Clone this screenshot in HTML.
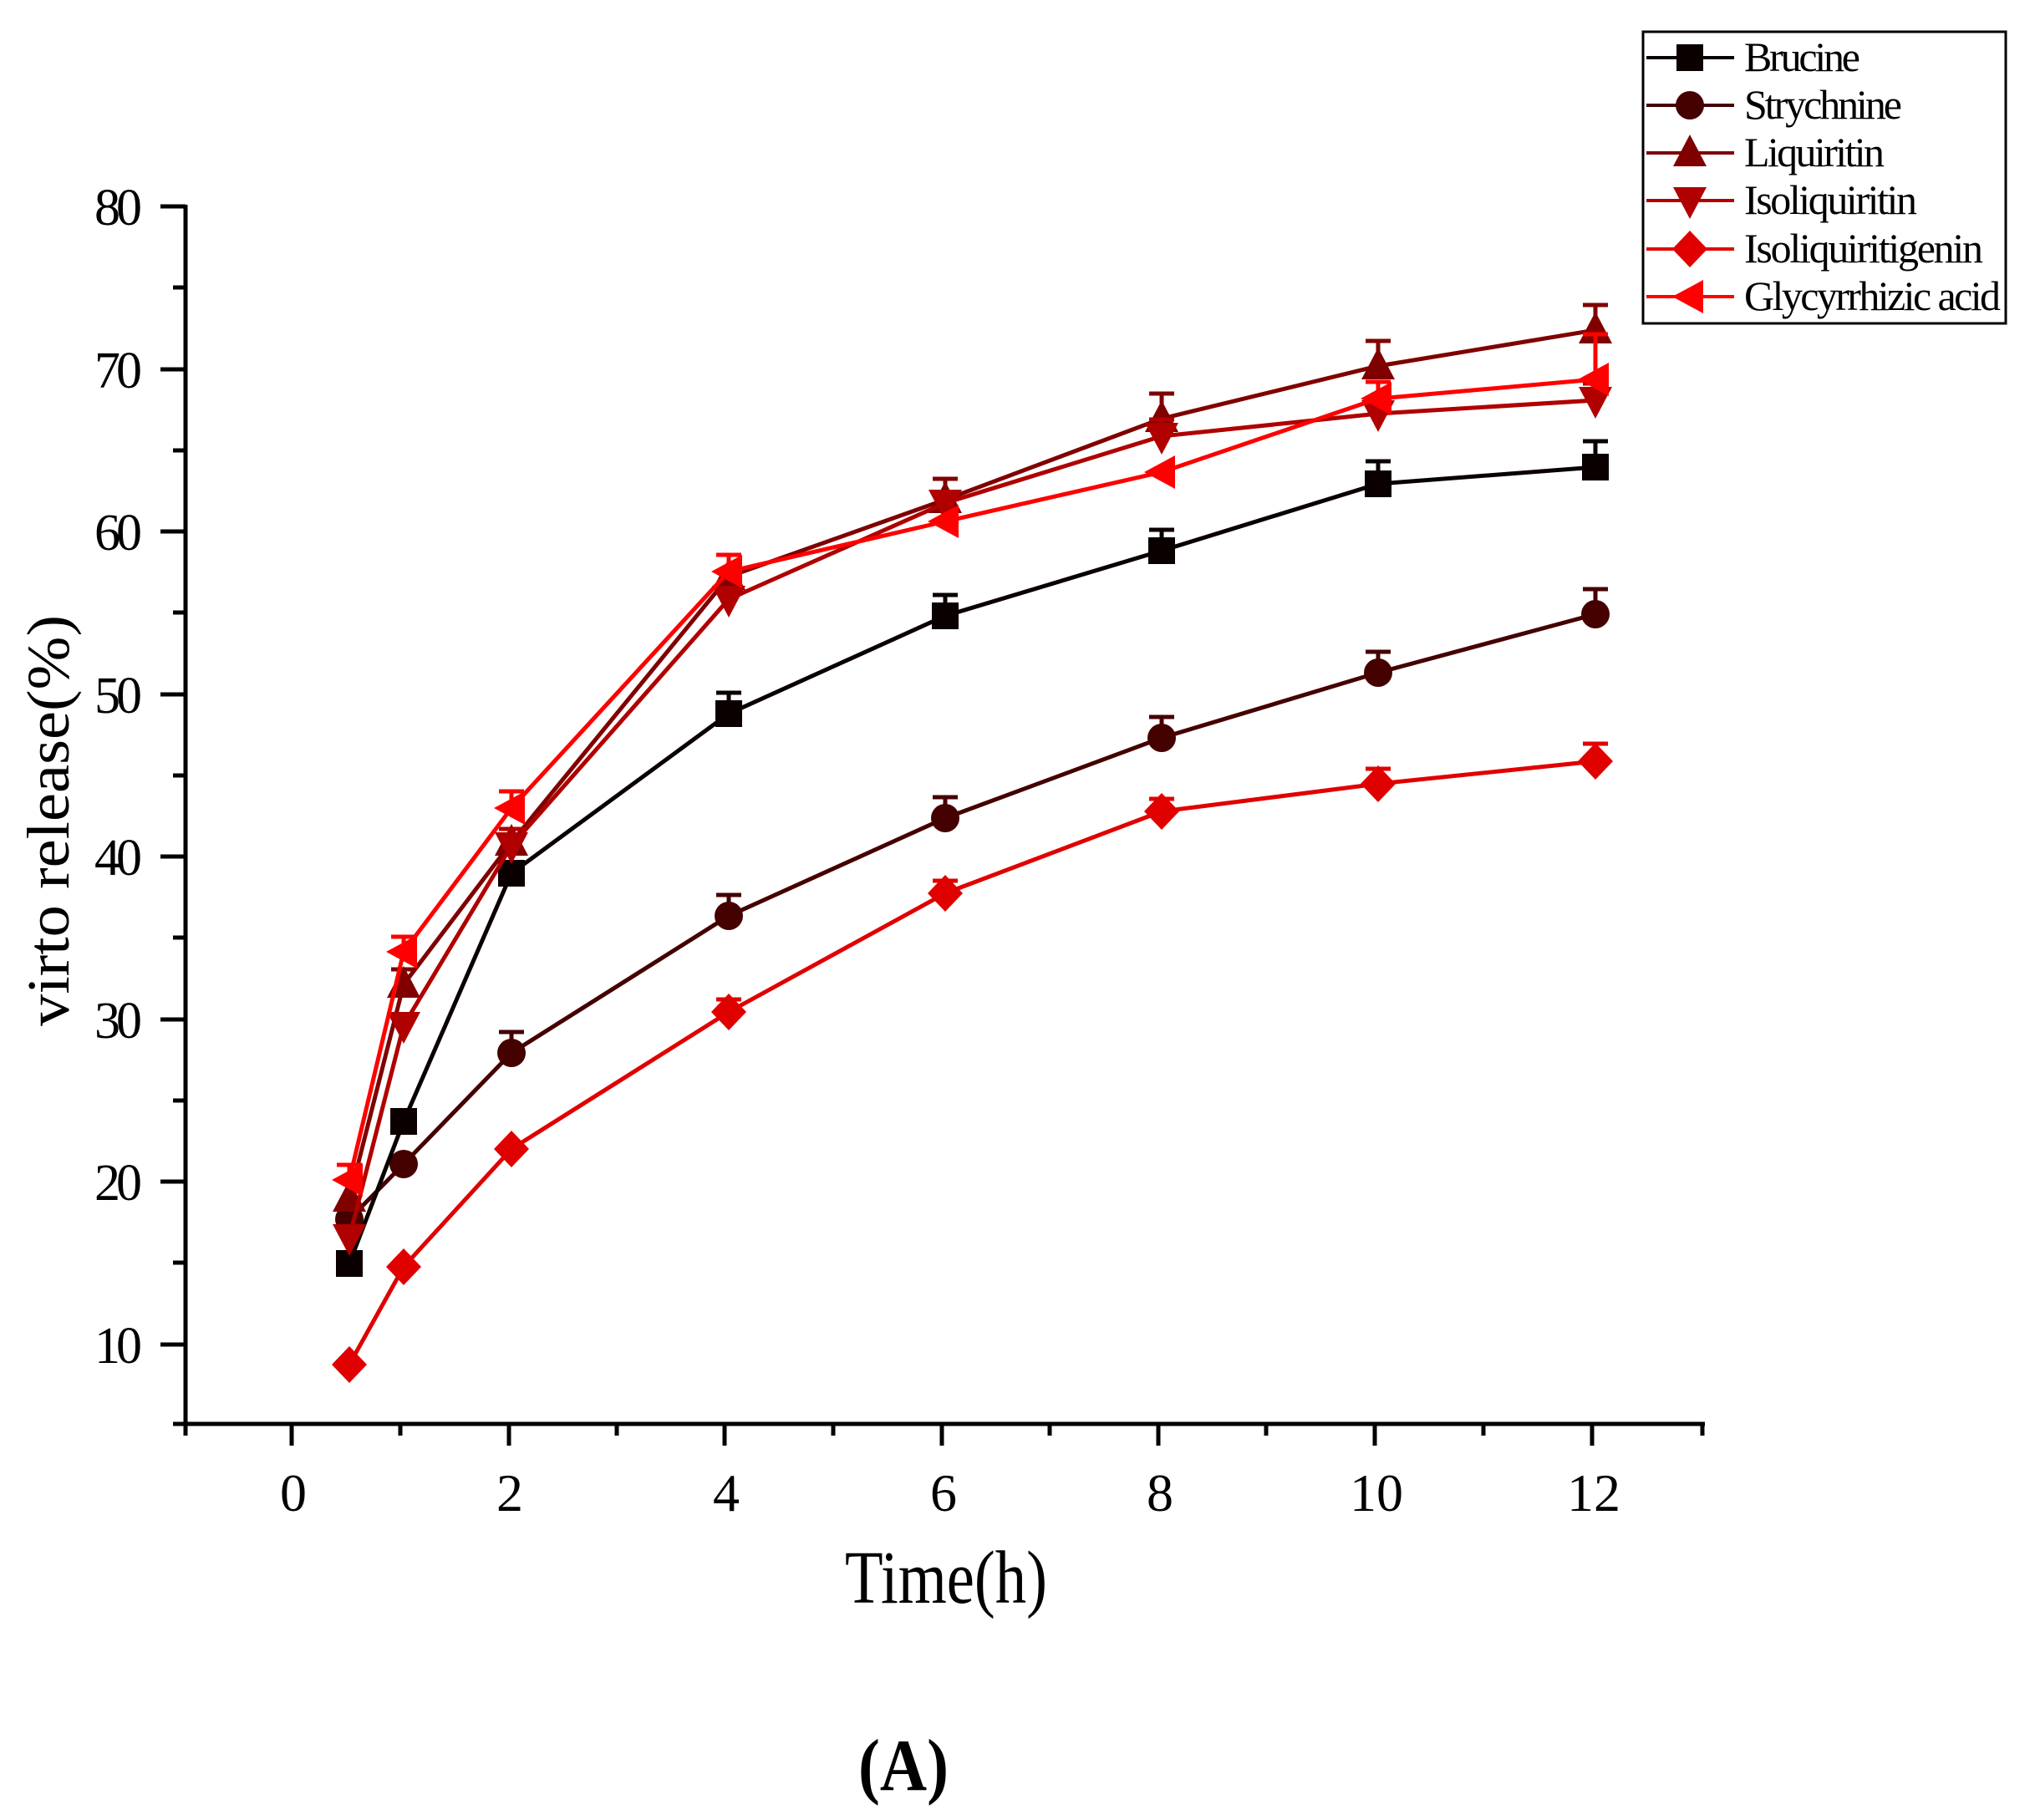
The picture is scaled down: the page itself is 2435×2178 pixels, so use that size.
<!DOCTYPE html>
<html><head><meta charset="utf-8"><style>
html,body{margin:0;padding:0;background:#fff}
svg{display:block}
text{font-family:"Liberation Serif",serif;fill:#000}
</style></head><body>
<svg width="2435" height="2178" viewBox="0 0 2435 2178" xmlns="http://www.w3.org/2000/svg">
<defs>
<g id="sq"><rect x="-16" y="-16" width="32" height="32"/></g>
<g id="ci"><circle r="17"/></g>
<g id="tu"><polygon points="0,-22 20,16 -20,16"/></g>
<g id="td"><polygon points="0,22 20,-16 -20,-16"/></g>
<g id="di"><polygon points="0,-22 21,0 0,22 -21,0"/></g>
<g id="tl"><polygon points="-21,0 16,-20 16,20"/></g>
</defs>
<g stroke="#000" stroke-width="5" fill="none">
<line x1="222" y1="245" x2="222" y2="1707"/>
<line x1="220" y1="1704" x2="2040" y2="1704"/>
<path d="M192 247H222M192 442H222M192 636H222M192 831H222M192 1025H222M192 1220H222M192 1414H222M192 1609H222"/>
<path d="M207 344H222M207 539H222M207 733H222M207 928H222M207 1122H222M207 1317H222M207 1511H222M207 1704H222"/>
<path d="M349 1704V1730M609 1704V1730M867 1704V1730M1127 1704V1730M1386 1704V1730M1645 1704V1730M1905 1704V1730"/>
<path d="M222 1704V1718M479 1704V1718M738 1704V1718M997 1704V1718M1256 1704V1718M1515 1704V1718M1775 1704V1718M2037 1704V1718"/>
</g>
<g font-size="62" text-anchor="end">
<text x="170" y="269" textLength="57">80</text>
<text x="170" y="464" textLength="57">70</text>
<text x="170" y="658" textLength="57">60</text>
<text x="170" y="853" textLength="57">50</text>
<text x="170" y="1047" textLength="57">40</text>
<text x="170" y="1242" textLength="57">30</text>
<text x="170" y="1436" textLength="57">20</text>
<text x="170" y="1631" textLength="57">10</text>
</g>
<g font-size="64" text-anchor="middle">
<text x="351" y="1808">0</text>
<text x="610" y="1808">2</text>
<text x="869" y="1808">4</text>
<text x="1129" y="1808">6</text>
<text x="1388" y="1808">8</text>
<text x="1647" y="1808">10</text>
<text x="1907" y="1808">12</text>
</g>
<text x="1011" y="1918" font-size="90" textLength="242" lengthAdjust="spacingAndGlyphs">Time(h)</text>
<text transform="translate(82,1228) rotate(-90)" font-size="72" textLength="492" lengthAdjust="spacingAndGlyphs">virto release(%)</text>
<text x="1027" y="2142" font-size="88" font-weight="bold" textLength="108" lengthAdjust="spacingAndGlyphs">(A)</text>

<g stroke-width="5" fill="none">
<g stroke="#450000"><polyline points="418,1459 483,1393 612,1260 872,1096 1131,979 1390,883 1649,805 1909,735"/>
<path d="M612 1260V1235M597 1235H627M872 1096V1071M857 1071H887M1131 979V954M1116 954H1146M1390 883V858M1375 858H1405M1649 805V780M1634 780H1664M1909 735V705M1894 705H1924"/></g>
<g fill="#450000"><use href="#ci" x="418" y="1459"/><use href="#ci" x="483" y="1393"/><use href="#ci" x="612" y="1260"/><use href="#ci" x="872" y="1096"/><use href="#ci" x="1131" y="979"/><use href="#ci" x="1390" y="883"/><use href="#ci" x="1649" y="805"/><use href="#ci" x="1909" y="735"/></g>
<g stroke="#0a0000"><polyline points="418,1512 483,1342 612,1045 872,854 1131,737 1390,659 1649,579 1909,559"/>
<path d="M872 854V829M857 829H887M1131 737V712M1116 712H1146M1390 659V634M1375 634H1405M1649 579V552M1634 552H1664M1909 559V528M1894 528H1924"/></g>
<g fill="#0a0000"><use href="#sq" x="418" y="1512"/><use href="#sq" x="483" y="1342"/><use href="#sq" x="612" y="1045"/><use href="#sq" x="872" y="854"/><use href="#sq" x="1131" y="737"/><use href="#sq" x="1390" y="659"/><use href="#sq" x="1649" y="579"/><use href="#sq" x="1909" y="559"/></g>
<g stroke="#e00000"><polyline points="418,1633 483,1516 612,1375 872,1211 1131,1069 1390,971 1649,938 1909,911"/>
<path d="M872 1211V1196M857 1196H887M1131 1069V1054M1116 1054H1146M1390 971V956M1375 956H1405M1649 938V920M1634 920H1664M1909 911V890M1894 890H1924"/></g>
<g fill="#e00000"><use href="#di" x="418" y="1633"/><use href="#di" x="483" y="1516"/><use href="#di" x="612" y="1375"/><use href="#di" x="872" y="1211"/><use href="#di" x="1131" y="1069"/><use href="#di" x="1390" y="971"/><use href="#di" x="1649" y="938"/><use href="#di" x="1909" y="911"/></g>
<g stroke="#800000"><polyline points="418,1434 483,1178 612,1008 872,690 1131,598 1390,501 1649,438 1909,395"/>
<path d="M483 1178V1160M468 1160H498M1131 598V573M1116 573H1146M1390 501V471M1375 471H1405M1649 438V408M1634 408H1664M1909 395V365M1894 365H1924"/></g>
<g fill="#800000"><use href="#tu" x="418" y="1434"/><use href="#tu" x="483" y="1178"/><use href="#tu" x="612" y="1008"/><use href="#tu" x="872" y="690"/><use href="#tu" x="1131" y="598"/><use href="#tu" x="1390" y="501"/><use href="#tu" x="1649" y="438"/><use href="#tu" x="1909" y="395"/></g>
<g stroke="#b00000"><polyline points="418,1481 483,1227 612,1012 872,717 1131,602 1390,522 1649,495 1909,479"/>
<path d="M612 1012V992M597 992H627M1390 522V502M1375 502H1405M1909 479V459M1894 459H1924"/></g>
<g fill="#b00000"><use href="#td" x="418" y="1481"/><use href="#td" x="483" y="1227"/><use href="#td" x="612" y="1012"/><use href="#td" x="872" y="717"/><use href="#td" x="1131" y="602"/><use href="#td" x="1390" y="522"/><use href="#td" x="1649" y="495"/><use href="#td" x="1909" y="479"/></g>
<g stroke="#ff0000"><polyline points="418,1412 483,1139 612,967 872,684 1131,624 1390,565 1649,477 1909,454"/>
<path d="M418 1412V1394M403 1394H433M483 1139V1121M468 1121H498M612 967V947M597 947H627M872 684V664M857 664H887M1649 477V457M1634 457H1664M1909 454V400M1894 400H1924"/></g>
<g fill="#ff0000"><use href="#tl" x="418" y="1412"/><use href="#tl" x="483" y="1139"/><use href="#tl" x="612" y="967"/><use href="#tl" x="872" y="684"/><use href="#tl" x="1131" y="624"/><use href="#tl" x="1390" y="565"/><use href="#tl" x="1649" y="477"/><use href="#tl" x="1909" y="454"/></g>
</g>

<rect x="1966" y="38" width="434" height="349" fill="#fff" stroke="#000" stroke-width="3"/>
<g stroke-width="4">
<line x1="1970" y1="69" x2="2075" y2="69" stroke="#0a0000"/>
<line x1="1970" y1="126" x2="2075" y2="126" stroke="#450000"/>
<line x1="1970" y1="183" x2="2075" y2="183" stroke="#800000"/>
<line x1="1970" y1="240" x2="2075" y2="240" stroke="#b00000"/>
<line x1="1970" y1="298" x2="2075" y2="298" stroke="#e00000"/>
<line x1="1970" y1="355" x2="2075" y2="355" stroke="#ff0000"/>
</g>
<use href="#sq" x="2022" y="69" fill="#0a0000"/>
<use href="#ci" x="2022" y="126" fill="#450000"/>
<use href="#tu" x="2022" y="183" fill="#800000"/>
<use href="#td" x="2022" y="240" fill="#b00000"/>
<use href="#di" x="2022" y="298" fill="#e00000"/>
<use href="#tl" x="2022" y="355" fill="#ff0000"/>
<g font-size="50" lengthAdjust="spacingAndGlyphs">
<text x="2087" y="85" textLength="139">Brucine</text>
<text x="2087" y="142" textLength="189">Strychnine</text>
<text x="2087" y="199" textLength="168">Liquiritin</text>
<text x="2087" y="256" textLength="207">Isoliquiritin</text>
<text x="2087" y="314" textLength="286">Isoliquiritigenin</text>
<text x="2087" y="371" textLength="307">Glycyrrhizic acid</text>
</g>
</svg>
</body></html>
